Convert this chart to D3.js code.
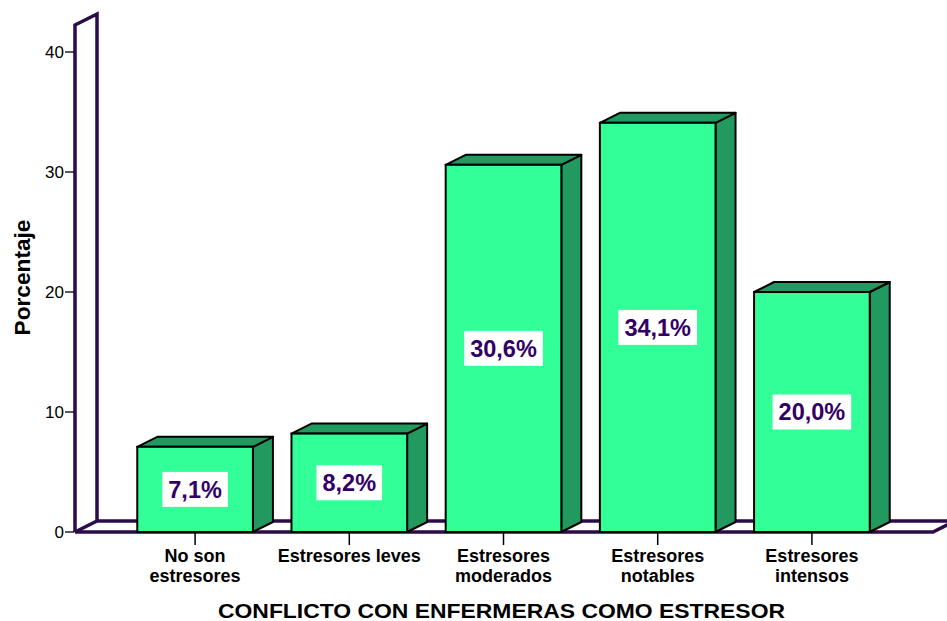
<!DOCTYPE html>
<html>
<head>
<meta charset="utf-8">
<script src="https://cdn.jsdelivr.net/npm/d3@7"></script>
<style>
  html, body { margin: 0; padding: 0; background: #ffffff; }
  svg { display: block; }
  text { font-family: "Liberation Sans", Arial, sans-serif; }
</style>
</head>
<body>
<svg id="chart" width="947" height="621"></svg>
<script>
// Conflict with nurses as a stressor: percentage of respondents per level
const categories = [
  "No son\nestresores",
  "Estresores leves",
  "Estresores\nmoderados",
  "Estresores\nnotables",
  "Estresores\nintensos"
];
const percentages = [7.1, 8.2, 30.6, 34.1, 20.0];
const valueLabels = ["7,1%", "8,2%", "30,6%", "34,1%", "20,0%"];
const yTicks = [0, 10, 20, 30, 40];
const yTitle = "Porcentaje";
const xTitle = "CONFLICTO CON ENFERMERAS COMO ESTRESOR";

const svg = d3.select("#chart");

const wallColor = "#2b0b48";
const frontColor = "#33ff99";
const sideColor = "#229a5f";
const labelColor = "#330066";

// Scales
const y = d3.scaleLinear().domain([0, 40]).range([532, 52]);
const x = d3.scaleBand().domain(categories).range([118, 889])
  .paddingInner(0.25).paddingOuter(0.125);

const base = y(0);
const axisX = 75;
const wallTop = y(42.25);
const wdx = 22, wdy = -11;   // depth of the wall / floor slab
const bdx = 20, bdy = -10;   // depth of each bar
const floorEnd = 933;

// Left wall slab
svg.append("path")
  .attr("d", `M${axisX},${base} L${axisX},${wallTop} L${axisX + wdx},${wallTop + wdy} L${axisX + wdx},${base + wdy}`)
  .attr("fill", "#ffffff")
  .attr("stroke", wallColor)
  .attr("stroke-width", 3.5)
  .attr("stroke-linejoin", "miter");

// Floor slab
svg.append("path")
  .attr("d", `M${axisX},${base} L${floorEnd},${base} L${floorEnd + wdx},${base + wdy} L${axisX + wdx},${base + wdy} Z`)
  .attr("fill", "#ffffff")
  .attr("stroke", wallColor)
  .attr("stroke-width", 3.5)
  .attr("stroke-linejoin", "miter");

// Y axis ticks and labels
const yAxis = svg.append("g");
yAxis.selectAll("line").data(yTicks).join("line")
  .attr("x1", axisX - 10).attr("x2", axisX - 1)
  .attr("y1", d => y(d)).attr("y2", d => y(d))
  .attr("stroke", "#000").attr("stroke-width", 1.3);
yAxis.selectAll("text").data(yTicks).join("text")
  .attr("x", axisX - 11)
  .attr("y", d => y(d))
  .attr("dy", "0.36em")
  .attr("text-anchor", "end")
  .attr("font-size", 17)
  .attr("fill", "#000")
  .text(d => d);

// Category ticks below the floor
svg.append("g").selectAll("line").data(categories).join("line")
  .attr("x1", d => x(d) + x.bandwidth() / 2)
  .attr("x2", d => x(d) + x.bandwidth() / 2)
  .attr("y1", base + 1).attr("y2", base + 13)
  .attr("stroke", "#000").attr("stroke-width", 1.5);

// Bars
const bars = svg.append("g").selectAll("g")
  .data(categories.map((c, i) => ({ c, v: percentages[i], label: valueLabels[i] })))
  .join("g");

bars.append("path") // side face
  .attr("d", d => {
    const x1 = x(d.c) + x.bandwidth(), yt = y(d.v);
    return `M${x1},${yt} L${x1 + bdx},${yt + bdy} L${x1 + bdx},${base + bdy} L${x1},${base} Z`;
  })
  .attr("fill", sideColor).attr("stroke", "#000").attr("stroke-width", 2)
  .attr("stroke-linejoin", "round");

bars.append("path") // top face
  .attr("d", d => {
    const x0 = x(d.c), x1 = x0 + x.bandwidth(), yt = y(d.v);
    return `M${x0},${yt} L${x0 + bdx},${yt + bdy} L${x1 + bdx},${yt + bdy} L${x1},${yt} Z`;
  })
  .attr("fill", sideColor).attr("stroke", "#000").attr("stroke-width", 2)
  .attr("stroke-linejoin", "round");

bars.append("rect") // front face
  .attr("x", d => x(d.c))
  .attr("y", d => y(d.v))
  .attr("width", x.bandwidth())
  .attr("height", d => base - y(d.v))
  .attr("fill", frontColor).attr("stroke", "#000").attr("stroke-width", 2);

// Value labels in white boxes
bars.each(function (d) {
  const g = d3.select(this);
  const cx = x(d.c) + x.bandwidth() / 2;
  const cy = (y(d.v) + base) / 2;
  const box = g.append("rect").attr("fill", "#ffffff");
  const t = g.append("text")
    .attr("x", cx).attr("y", cy)
    .attr("dy", "0.36em")
    .attr("text-anchor", "middle")
    .attr("font-size", 23.5)
    .attr("font-weight", "bold")
    .attr("fill", labelColor)
    .text(d.label);
  const w = t.node().getComputedTextLength() + 12;
  box.attr("x", cx - w / 2).attr("y", cy - 17.5).attr("width", w).attr("height", 35);
});

// Category labels
svg.append("g").selectAll("text").data(categories).join("text")
  .attr("x", d => x(d) + x.bandwidth() / 2)
  .attr("y", 562)
  .attr("text-anchor", "middle")
  .attr("font-size", 18)
  .attr("font-weight", "bold")
  .attr("fill", "#000")
  .each(function (d) {
    const lines = d.split("\n");
    d3.select(this).selectAll("tspan").data(lines).join("tspan")
      .attr("x", x(d) + x.bandwidth() / 2)
      .attr("dy", (l, i) => i === 0 ? 0 : 20)
      .text(l => l);
  });

// Axis titles
svg.append("text")
  .attr("transform", "translate(30,277.5) rotate(-90)")
  .attr("text-anchor", "middle")
  .attr("font-size", 22.5)
  .attr("font-weight", "bold")
  .attr("fill", "#000")
  .attr("textLength", 116)
  .attr("lengthAdjust", "spacingAndGlyphs")
  .text(yTitle);

svg.append("text")
  .attr("x", 501.5)
  .attr("y", 618)
  .attr("text-anchor", "middle")
  .attr("font-size", 21)
  .attr("font-weight", "bold")
  .attr("fill", "#000")
  .attr("textLength", 567)
  .attr("lengthAdjust", "spacingAndGlyphs")
  .text(xTitle);
</script>
</body>
</html>
